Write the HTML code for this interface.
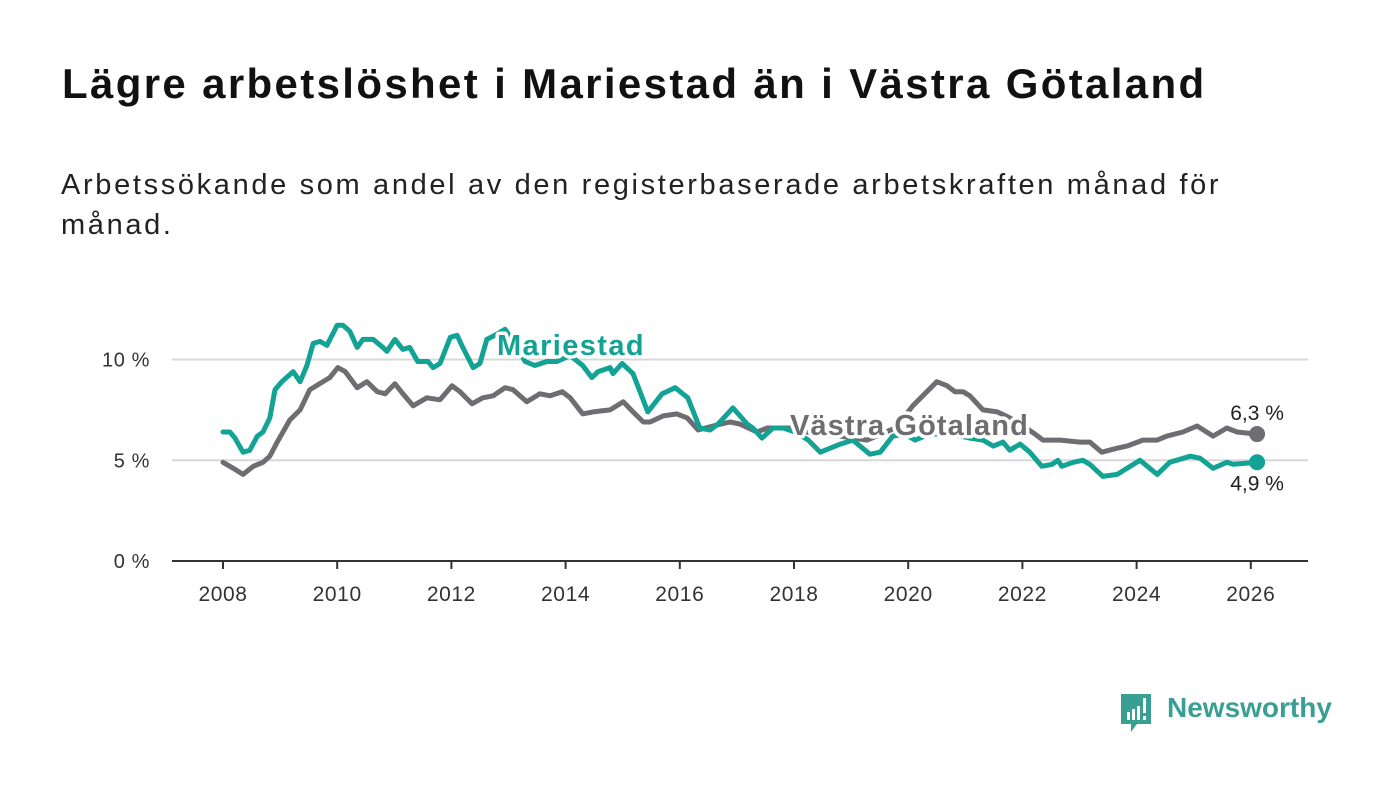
<!DOCTYPE html>
<html><head><meta charset="utf-8">
<style>
body{margin:0;width:1400px;height:794px;background:#fff;font-family:"Liberation Sans",sans-serif;overflow:hidden;position:relative}
#title{position:absolute;left:62px;top:60px;font-size:42px;font-weight:bold;color:#111;margin:0;letter-spacing:2.35px;white-space:nowrap}
#sub{position:absolute;left:61px;top:165px;font-size:29px;color:#222;line-height:40px;margin:0;letter-spacing:2.65px;white-space:nowrap}
svg{position:absolute;left:0;top:0}
.lbl{paint-order:stroke;stroke:#fff;stroke-width:7px;stroke-linejoin:round}
</style></head><body>
<h1 id="title">Lägre arbetslöshet i Mariestad än i Västra Götaland</h1>
<p id="sub">Arbetssökande som andel av den registerbaserade arbetskraften månad för<br>månad.</p>
<svg id="chart" width="1400" height="794"></svg>
<div style="position:absolute;left:1119px;top:692px;width:220px;height:44px">
<svg width="34" height="42" style="position:absolute;left:0;top:0">
<path d="M2 2 H32 V32 H18 L12 40 V32 H2 Z" fill="#3a9f93"/>
<rect x="8" y="20" width="3" height="8" fill="#fff"/><rect x="13" y="17" width="3" height="11" fill="#fff"/><rect x="18" y="14" width="3" height="14" fill="#fff"/><rect x="24" y="6" width="3" height="15" fill="#fff"/><rect x="24" y="24" width="3" height="4" fill="#fff"/>
</svg>
<span style="position:absolute;left:48px;top:0px;font-size:28px;font-weight:bold;color:#3a9f93">Newsworthy</span>
</div>
<script>
const tealYears=[2008.0,2008.12,2008.21,2008.35,2008.47,2008.6,2008.7,2008.82,2008.91,2009.03,2009.23,2009.35,2009.47,2009.58,2009.7,2009.82,2010.0,2010.1,2010.22,2010.35,2010.45,2010.63,2010.8,2010.87,2011.01,2011.15,2011.27,2011.41,2011.59,2011.68,2011.8,2011.98,2012.1,2012.2,2012.38,2012.5,2012.62,2012.76,2012.94,2013.11,2013.29,2013.46,2013.67,2013.85,2014.08,2014.3,2014.46,2014.57,2014.78,2014.83,2014.99,2015.18,2015.44,2015.69,2015.92,2016.14,2016.35,2016.53,2016.67,2016.93,2017.18,2017.28,2017.44,2017.63,2017.81,2018.02,2018.25,2018.46,2018.81,2019.03,2019.33,2019.51,2019.73,2019.94,2020.12,2020.38,2020.73,2021.08,2021.31,2021.49,2021.66,2021.78,2021.96,2022.13,2022.34,2022.52,2022.62,2022.69,2022.89,2023.06,2023.18,2023.41,2023.66,2024.06,2024.36,2024.58,2024.94,2025.11,2025.34,2025.58,2025.69,2026.11];
const mariestad=[6.4,6.4,6.1,5.4,5.5,6.2,6.4,7.1,8.5,8.9,9.4,8.9,9.7,10.8,10.9,10.7,11.7,11.7,11.4,10.6,11.0,11.0,10.6,10.4,11.0,10.5,10.6,9.9,9.9,9.6,9.8,11.1,11.2,10.6,9.6,9.8,11.0,11.2,11.5,10.8,9.9,9.7,9.9,9.9,10.2,9.7,9.1,9.4,9.6,9.3,9.8,9.3,7.4,8.3,8.6,8.1,6.6,6.5,6.8,7.6,6.8,6.6,6.1,6.6,6.6,6.4,6.0,5.4,5.8,6.0,5.3,5.4,6.2,6.3,6.0,6.3,6.3,6.1,6.0,5.7,5.9,5.5,5.8,5.4,4.7,4.8,5.0,4.7,4.9,5.0,4.8,4.2,4.3,5.0,4.3,4.9,5.2,5.1,4.6,4.9,4.8,4.9];
const grayYears=[2008.0,2008.18,2008.35,2008.53,2008.7,2008.82,2008.95,2009.17,2009.35,2009.52,2009.75,2009.87,2010.01,2010.14,2010.35,2010.52,2010.7,2010.84,2011.01,2011.15,2011.33,2011.57,2011.8,2012.01,2012.15,2012.36,2012.55,2012.73,2012.94,2013.08,2013.32,2013.55,2013.73,2013.94,2014.08,2014.3,2014.48,2014.78,2015.01,2015.18,2015.36,2015.48,2015.71,2015.95,2016.13,2016.32,2016.58,2016.88,2017.05,2017.35,2017.53,2017.93,2018.37,2018.81,2019.28,2019.45,2019.77,2020.08,2020.5,2020.68,2020.82,2020.96,2021.08,2021.31,2021.56,2021.78,2021.96,2022.22,2022.36,2022.66,2023.01,2023.18,2023.39,2023.66,2023.83,2024.11,2024.36,2024.53,2024.81,2025.06,2025.34,2025.58,2025.76,2026.11];
const vastraGotaland=[4.9,4.6,4.3,4.7,4.9,5.2,5.9,7.0,7.5,8.5,8.9,9.1,9.6,9.4,8.6,8.9,8.4,8.3,8.8,8.3,7.7,8.1,8.0,8.7,8.4,7.8,8.1,8.2,8.6,8.5,7.9,8.3,8.2,8.4,8.1,7.3,7.4,7.5,7.9,7.4,6.9,6.9,7.2,7.3,7.1,6.5,6.7,6.9,6.8,6.4,6.6,6.6,6.3,6.2,6.0,6.2,6.6,7.7,8.9,8.7,8.4,8.4,8.2,7.5,7.4,7.1,6.8,6.3,6.0,6.0,5.9,5.9,5.4,5.6,5.7,6.0,6.0,6.2,6.4,6.7,6.2,6.6,6.4,6.3];
const yTicks=[0,5,10];
const yTickLabels=["0 %","5 %","10 %"];
const xTicks=[2008,2010,2012,2014,2016,2018,2020,2022,2024,2026];
const endLabels=["6,3 %","4,9 %"];

const NS="http://www.w3.org/2000/svg";
const svg=document.getElementById('chart');
const X=y=>223+(y-2008)*57.1;
const Y=v=>561-v*20.15;
function mk(tag,attrs,parent){const e=document.createElementNS(NS,tag);for(const k in attrs)e.setAttribute(k,attrs[k]);(parent||svg).appendChild(e);return e;}

yTicks.forEach((t,i)=>{
  if(t>0){const g=mk('line',{x1:172,x2:1308,y1:Y(t),y2:Y(t),stroke:'#d8d8d8','stroke-width':2});
  
  }
  const tx=mk('text',{x:150,y:Y(t)+7,'text-anchor':'end','font-size':20,fill:'#333','letter-spacing':'0.6'});
  tx.textContent=yTickLabels[i];
  
  
});
const ax=mk('line',{x1:172,x2:1308,y1:561,y2:561,stroke:'#333','stroke-width':2});


xTicks.forEach(t=>{
  const tk=mk('line',{x1:X(t),x2:X(t),y1:561,y2:569,stroke:'#333','stroke-width':2});
  
  
  const tx=mk('text',{x:X(t),y:601,'text-anchor':'middle','font-size':21,fill:'#333','letter-spacing':'0.6'});
  tx.textContent=t;
  
  
});
function line(xs,vs,color,name){
  const d=xs.map((x,i)=>(i?'L':'M')+X(x).toFixed(1)+' '+Y(vs[i]).toFixed(1)).join(' ');
  const p=mk('path',{d:d,fill:'none',stroke:color,'stroke-width':5,'stroke-linejoin':'round','stroke-linecap':'round'});
  
  
  const n=xs.length-1;
  const c=mk('circle',{cx:X(xs[n]),cy:Y(vs[n]),r:8,fill:color});
  
  
}
line(grayYears,vastraGotaland,'#6e6d72','vastra-gotaland-line');
line(tealYears,mariestad,'#12a395','mariestad-line');

const l1=mk('text',{x:497,y:355,'font-size':29,'font-weight':'bold',fill:'#12a395',class:'lbl','letter-spacing':'1.4'});
l1.textContent='Mariestad';


const l2=mk('text',{x:790,y:435,'font-size':29,'font-weight':'bold',fill:'#6e6d72',class:'lbl','letter-spacing':'1.1'});
l2.textContent='Västra Götaland';


const gn=grayYears.length-1, tn=tealYears.length-1;
const e1=mk('text',{x:X(grayYears[gn]),y:Y(vastraGotaland[gn])-14,'text-anchor':'middle','font-size':21,fill:'#222',class:'lbl'});
e1.textContent=endLabels[0];


const e2=mk('text',{x:X(tealYears[tn]),y:Y(mariestad[tn])+28,'text-anchor':'middle','font-size':21,fill:'#222',class:'lbl'});
e2.textContent=endLabels[1];


</script>
</body></html>
